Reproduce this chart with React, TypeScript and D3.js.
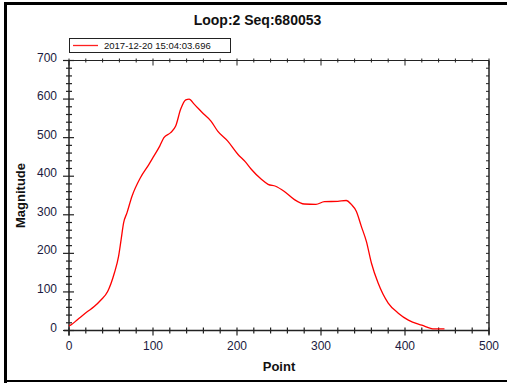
import React from "react";
import * as d3 from "d3";

const title = "Loop:2 Seq:680053";
const seriesName = "2017-12-20 15:04:03.696";
const xLabel = "Point";
const yLabel = "Magnitude";
const xTicks = [0, 100, 200, 300, 400, 500];
const yTicks = [0, 100, 200, 300, 400, 500, 600, 700];

const pointX = [0, 2, 10, 22, 30, 38, 46, 54, 59, 62, 65, 69, 75, 85, 95, 101, 108, 113, 121, 127, 133, 139, 143, 149, 160, 169, 177, 189, 201, 210, 217, 229, 237, 246, 256, 268, 280, 294, 304, 320, 330, 336, 342, 348, 354, 360, 368, 380, 392, 404, 420, 435, 447];
const magnitude = [12, 14, 28, 49, 62, 79, 101, 149, 192, 235, 279, 305, 348, 396, 430, 452, 478, 500, 513, 530, 574, 598, 600, 587, 562, 543, 517, 491, 457, 437, 418, 392, 379, 374, 361, 340, 328, 327, 334, 335, 337, 327, 309, 270, 231, 175, 123, 71, 45, 27, 14, 4, 4];

const W = 507;
const H = 383;
const L = 69, R = 489, T = 60.5, B = 330.5;
const FONT = "'Liberation Sans', Arial, sans-serif";

export default function App() {
  const x = d3.scaleLinear().domain([0, 500]).range([L, R]);
  const y = d3.scaleLinear().domain([0, 700]).range([B, T]);
  const data = pointX.map((p, i) => [p, magnitude[i]] as [number, number]);
  const line = d3.line<[number, number]>().x(d => x(d[0])).y(d => y(d[1])).curve(d3.curveMonotoneX);

  const xMinor = d3.range(0, 501, 20);
  const yMinor = d3.range(0, 701, 20);
  const ax = "#222";

  return (
    <svg width={W} height={H} style={{ position: "absolute", left: 0, top: 0, background: "#fff" }} fontFamily={FONT}>
      <rect x={0} y={0} width={W} height={H} fill="#fff" />
      {/* outer frame */}
      <rect x={4} y={2} width={W - 4} height={3} fill="#000" />
      <rect x={4} y={2} width={3} height={H - 2} fill="#000" />
      <rect x={4} y={380} width={W - 4} height={2} fill="#000" />

      <text x={257.5} y={25} textAnchor="middle" fontSize={14} fontWeight="bold" fill="#111">{title}</text>

      {/* legend */}
      <rect x={69.5} y={38.5} width={161} height={14} fill="#fff" stroke="#222" strokeWidth={1} />
      <line x1={73} x2={98} y1={45.5} y2={45.5} stroke="#ff2020" strokeWidth={1.3} />
      <text x={104} y={49} fontSize={9.5} fill="#111">{seriesName}</text>

      {/* axes lines */}
      <line x1={L - 5} x2={R} y1={B} y2={B} stroke={ax} strokeWidth={1.5} />
      <line x1={L} x2={L} y1={T} y2={B + 5} stroke={ax} strokeWidth={1.5} />
      <line x1={L} x2={R} y1={T} y2={T} stroke={ax} strokeWidth={1.2} />
      <line x1={R} x2={R} y1={T} y2={B + 4} stroke={ax} strokeWidth={1.5} />

      {/* x ticks */}
      {xMinor.map(v => {
        const major = v % 100 === 0;
        return (
          <g key={"xt" + v}>
            <line x1={x(v)} x2={x(v)} y1={B - 3} y2={B + (major ? 5 : 3)} stroke={ax} strokeWidth={1.2} />
            <line x1={x(v)} x2={x(v)} y1={T - 2} y2={T + (major ? 5 : 2)} stroke={ax} strokeWidth={1} />
          </g>
        );
      })}
      {/* y ticks */}
      {yMinor.map(v => {
        const major = v % 100 === 0;
        return (
          <g key={"yt" + v}>
            <line x1={L - (major ? 6 : 3)} x2={L + (major ? 5 : 3)} y1={y(v)} y2={y(v)} stroke={ax} strokeWidth={1.2} />
            <line x1={R - 3} x2={R} y1={y(v)} y2={y(v)} stroke={ax} strokeWidth={1} />
          </g>
        );
      })}

      {xTicks.map(v => (
        <text key={"xl" + v} x={x(v)} y={350} textAnchor="middle" fontSize={12} fill="#1a1a40">{v}</text>
      ))}
      {yTicks.map(v => (
        <text key={"yl" + v} x={57} y={y(v) + 1} textAnchor="end" fontSize={12} fill="#1a1a40">{v}</text>
      ))}

      <text x={279} y={371} textAnchor="middle" fontSize={13} fontWeight="bold" fill="#111">{xLabel}</text>
      <text transform="translate(25,195.5) rotate(-90)" textAnchor="middle" fontSize={13} fontWeight="bold" fill="#111">{yLabel}</text>

      <path d={line(data) ?? ""} fill="none" stroke="#ff0000" strokeWidth={1.3} strokeLinejoin="round" />
    </svg>
  );
}
